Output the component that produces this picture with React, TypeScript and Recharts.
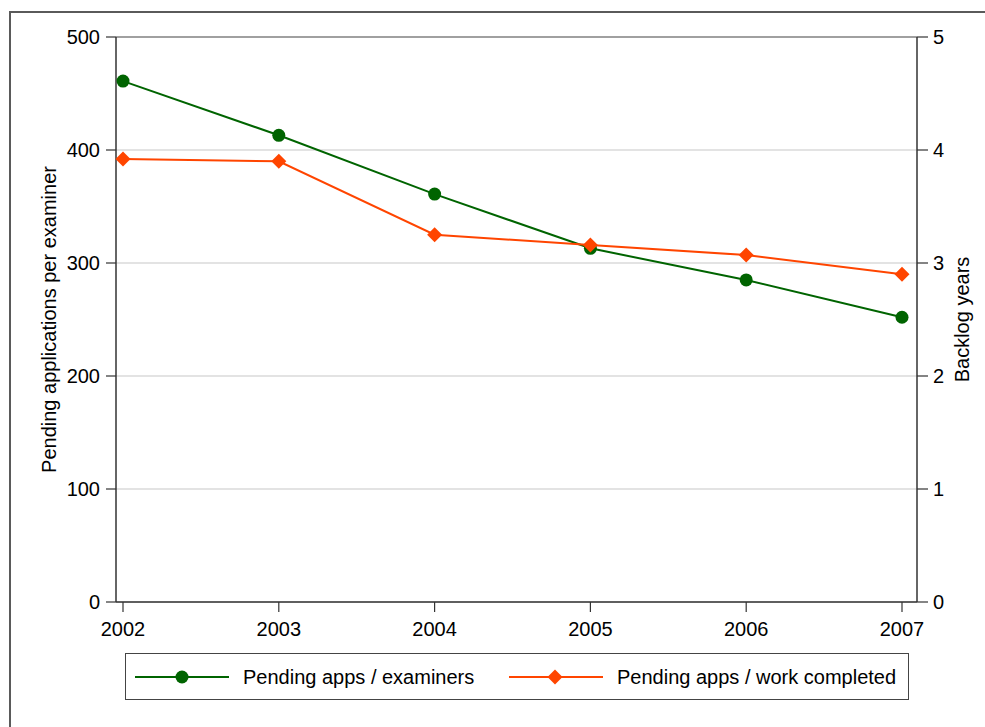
import React from 'react';
import { LineChart, Line, XAxis, YAxis, CartesianGrid, ReferenceLine, Label } from 'recharts';

const years = [2002, 2003, 2004, 2005, 2006, 2007];
const perExaminer = [461, 413, 361, 313, 285, 252];
const backlogYears = [3.92, 3.9, 3.25, 3.16, 3.07, 2.9];
const leftTicks = [0, 100, 200, 300, 400, 500];
const rightTicks = [0, 1, 2, 3, 4, 5];
const seriesNames = ['Pending apps / examiners', 'Pending apps / work completed'];
const leftTitle = 'Pending applications per examiner';
const rightTitle = 'Backlog years';

const data = years.map((year, i) => ({ year, perExaminer: perExaminer[i], backlog: backlogYears[i] }));

const GREEN = '#006400';
const ORANGE = '#ff4500';
const FONT = '"Liberation Sans", Arial, Helvetica, sans-serif';
const AXIS = '#333333';

const CircleDot = (props: any) => {
  const { cx, cy, index } = props;
  if (cx == null || cy == null) return <g key={`c${index}`} />;
  return <circle key={`c${index}`} cx={cx} cy={cy} r={6.5} fill={GREEN} stroke="none" />;
};

const DiamondDot = (props: any) => {
  const { cx, cy, index } = props;
  if (cx == null || cy == null) return <g key={`d${index}`} />;
  const s = 7.5;
  return (
    <polygon
      key={`d${index}`}
      points={`${cx},${cy - s} ${cx + s},${cy} ${cx},${cy + s} ${cx - s},${cy}`}
      fill={ORANGE}
      stroke="none"
    />
  );
};

const tickStyle = { fill: '#000', fontSize: 20, fontFamily: FONT };

const LeftTitle = (props: any) => {
  const vb = props.viewBox || { x: 0, y: 37, width: 116, height: 565 };
  const x = vb.x + 49;
  const y = vb.y + vb.height / 2;
  return (
    <text x={x} y={y} transform={`rotate(-90 ${x} ${y})`} textAnchor="middle" dominantBaseline="central"
      fontSize={20} fontFamily={FONT} fill="#000">{leftTitle}</text>
  );
};

const RightTitle = (props: any) => {
  const vb = props.viewBox || { x: 917, y: 37, width: 68, height: 565 };
  const x = vb.x + 45;
  const y = vb.y + vb.height / 2;
  return (
    <text x={x} y={y} transform={`rotate(-90 ${x} ${y})`} textAnchor="middle" dominantBaseline="central"
      fontSize={20} fontFamily={FONT} fill="#000">{rightTitle}</text>
  );
};

export default function App() {
  return (
    <div style={{ position: 'absolute', left: 0, top: 0, width: 985, height: 727, overflow: 'hidden', background: '#fff' }}>
      <svg width={985} height={727} style={{ position: 'absolute', left: 0, top: 0 }}>
        <path d="M10,727 L10,12 L985,12" fill="none" stroke="#5a5a5a" strokeWidth={2} />
      </svg>
      <div style={{ position: 'absolute', left: 0, top: 0 }}>
        <LineChart width={985} height={727} data={data} margin={{ top: 37, right: 0, bottom: 85, left: 0 }}>
          <CartesianGrid yAxisId="left" horizontal={true} vertical={false} stroke="#e3e3e3" strokeWidth={2} />
          <ReferenceLine yAxisId="left" y={500} stroke="#8a8a8a" strokeWidth={1.5} />
          <XAxis
            dataKey="year"
            type="number"
            domain={[2002, 2007]}
            ticks={years}
            padding={{ left: 7, right: 15 }}
            height={40}
            tickSize={10}
            tickMargin={10}
            tick={tickStyle}
            axisLine={{ stroke: AXIS, strokeWidth: 1.5 }}
            tickLine={{ stroke: AXIS, strokeWidth: 1.2 }}
          />
          <YAxis
            yAxisId="left"
            orientation="left"
            domain={[0, 500]}
            ticks={leftTicks}
            width={116}
            tickSize={10}
            tickMargin={6}
            tick={tickStyle}
            axisLine={{ stroke: AXIS, strokeWidth: 1.5 }}
            tickLine={{ stroke: AXIS, strokeWidth: 1.2 }}
          >
            <Label content={<LeftTitle />} />
          </YAxis>
          <YAxis
            yAxisId="right"
            orientation="right"
            domain={[0, 5]}
            ticks={rightTicks}
            width={68}
            tickSize={11}
            tickMargin={5}
            tick={tickStyle}
            axisLine={{ stroke: AXIS, strokeWidth: 1.5 }}
            tickLine={{ stroke: AXIS, strokeWidth: 1.2 }}
          >
            <Label content={<RightTitle />} />
          </YAxis>
          <Line
            yAxisId="left"
            dataKey="perExaminer"
            name={seriesNames[0]}
            stroke={GREEN}
            strokeWidth={2}
            dot={CircleDot}
            activeDot={false}
            isAnimationActive={false}
          />
          <Line
            yAxisId="right"
            dataKey="backlog"
            name={seriesNames[1]}
            stroke={ORANGE}
            strokeWidth={2}
            dot={DiamondDot}
            activeDot={false}
            isAnimationActive={false}
          />
        </LineChart>
      </div>
      <div style={{ position: 'absolute', left: 125, top: 653, width: 782, height: 45, border: '1.5px solid #444', background: '#fff' }}>
        <svg width={782} height={45} style={{ position: 'absolute', left: 0, top: 0 }}>
          <line x1={9} x2={103} y1={23} y2={23} stroke={GREEN} strokeWidth={2} />
          <circle cx={56} cy={23} r={6.5} fill={GREEN} />
          <text x={117} y={23} dominantBaseline="central" fontSize={20} fontFamily={FONT} fill="#000">{seriesNames[0]}</text>
          <line x1={383} x2={477} y1={23} y2={23} stroke={ORANGE} strokeWidth={2} />
          <polygon points="429,15.5 436.5,23 429,30.5 421.5,23" fill={ORANGE} />
          <text x={491} y={23} dominantBaseline="central" fontSize={20} fontFamily={FONT} fill="#000">{seriesNames[1]}</text>
        </svg>
      </div>
    </div>
  );
}
